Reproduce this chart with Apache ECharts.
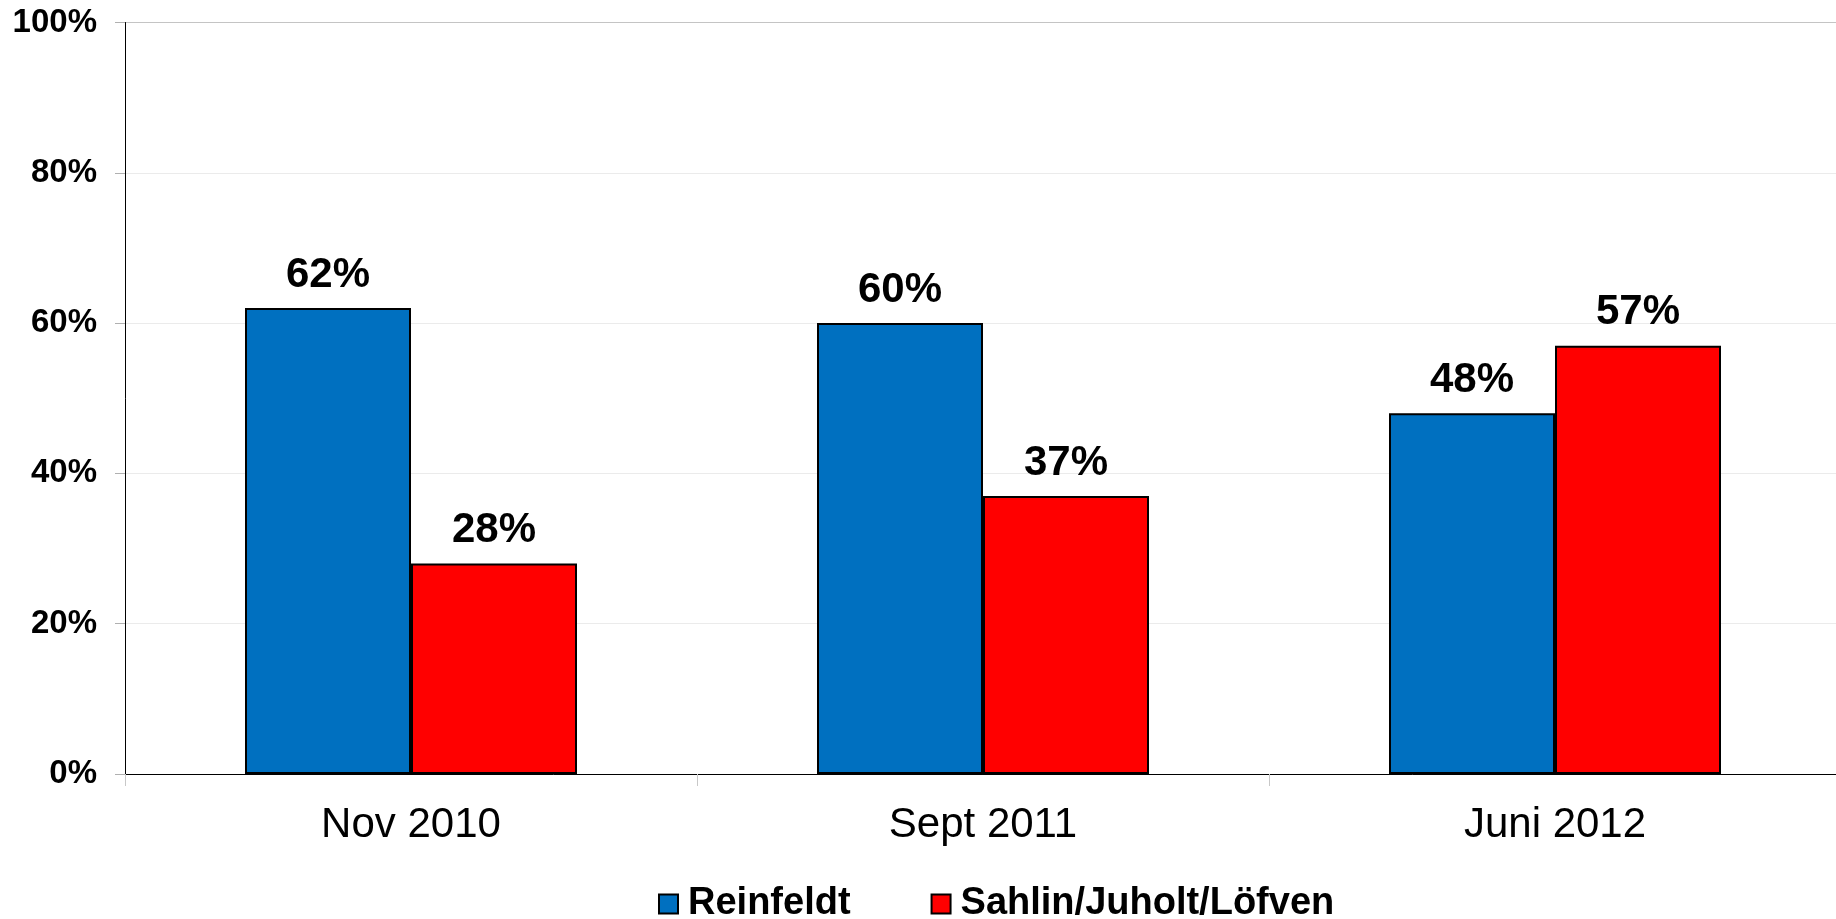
<!DOCTYPE html>
<html>
<head>
<meta charset="utf-8">
<title>Reinfeldt vs Sahlin/Juholt/Löfven</title>
<script src="https://cdn.jsdelivr.net/npm/echarts@6/dist/echarts.min.js"></script>
<style>
  html, body { margin: 0; padding: 0; background: #fff; overflow: hidden; }
  /* plot area runs a few px past the right edge of the window, as in the original */
  #chart { width: 1841px; height: 919px; }
</style>
</head>
<body>
<div id="chart"></div>
<script>
// data
const categories = ['Nov 2010', 'Sept 2011', 'Juni 2012']
const reinfeldt = [62, 60, 48]
const sahlin = [28, 37, 57]
const seriesNames = ['Reinfeldt', 'Sahlin/Juholt/Löfven']

const font = "'Liberation Sans', Arial, Helvetica, sans-serif"

const myChart = echarts.init(document.getElementById('chart'))

const barLabel = {
  show: true,
  position: 'top',
  distance: 12,
  formatter: '{c}%',
  color: '#000',
  fontFamily: font,
  fontWeight: 'bold',
  fontSize: 42,
}

const options = {
  animation: false,
  backgroundColor: '#fff',
  grid: {
    left: 125,
    right: 0,
    top: 22.5,
    bottom: 145,
    containLabel: false,
  },
  legend: {
    left: 658,
    top: 885,
    padding: 0,
    itemWidth: 19,
    itemHeight: 19,
    itemGap: 80,
    icon: 'rect',
    textStyle: {
      fontFamily: font,
      fontWeight: 'bold',
      fontSize: 38,
      color: '#000',
      padding: [0, 0, 0, 5],
    },
    data: seriesNames,
  },
  xAxis: {
    type: 'category',
    data: categories,
    axisLine: { lineStyle: { color: '#000', width: 1 } },
    axisTick: {
      show: true,
      alignWithLabel: false,
      length: 12,
      lineStyle: { color: '#c8c8c8' },
    },
    axisLabel: {
      margin: 30,
      color: '#000',
      fontFamily: font,
      fontSize: 42,
    },
  },
  yAxis: {
    type: 'value',
    min: 0,
    max: 100,
    interval: 20,
    axisLine: { show: true, lineStyle: { color: '#000', width: 1 } },
    axisTick: { show: true, length: 10, lineStyle: { color: '#b0b0b0' } },
    axisLabel: {
      formatter: '{value}%',
      margin: 28,
      color: '#000',
      fontFamily: font,
      fontWeight: 'bold',
      fontSize: 33,
    },
    splitLine: {
      show: true,
      lineStyle: {
        color: ['#ebebeb', '#ebebeb', '#ebebeb', '#ebebeb', '#ebebeb', '#c4c4c4'],
        width: 1,
      },
    },
  },
  series: [
    {
      name: seriesNames[0],
      type: 'bar',
      data: reinfeldt,
      barWidth: 166,
      barGap: '0%',
      itemStyle: { color: '#0070C0', borderColor: '#000', borderWidth: 2 },
      label: barLabel,
    },
    {
      name: seriesNames[1],
      type: 'bar',
      data: sahlin,
      barWidth: 166,
      barGap: '0%',
      itemStyle: { color: '#FF0000', borderColor: '#000', borderWidth: 2 },
      label: barLabel,
    },
  ],
}

myChart.setOption(options)
</script>
</body>
</html>
